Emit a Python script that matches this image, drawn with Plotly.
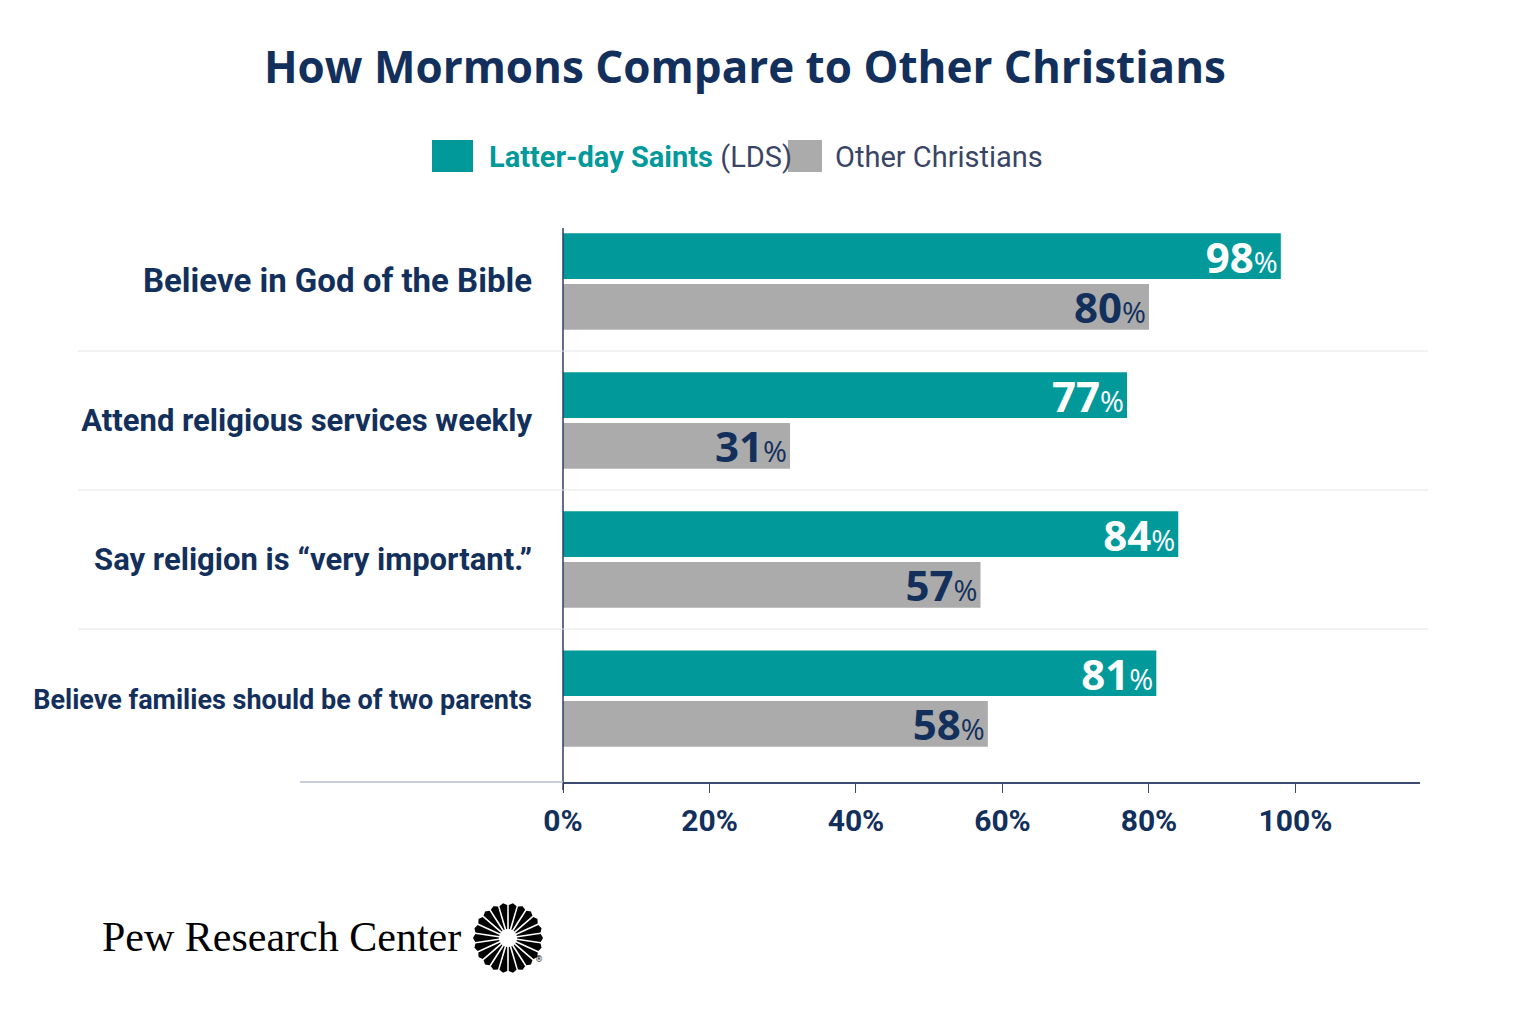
import math
import plotly.graph_objects as go

# ---------------- data ----------------
categories = [
    "Believe in God of the Bible",
    "Attend religious services weekly",
    "Say religion is “very important.”",
    "Believe families should be of two parents",
]
lds_values = [98, 77, 84, 81]
other_values = [80, 31, 57, 58]
series_names = ["Latter-day Saints (LDS)", "Other Christians"]
x_tickvals = [0, 20, 40, 60, 80, 100]
x_ticktext = ["0%", "20%", "40%", "60%", "80%", "100%"]

# ---------------- style ----------------
W, H = 1536, 1024
ML, MR, MT, MB = 563, 116, 212, 242
PW, PH = W - ML - MR, H - MT - MB
TEAL = "#02999b"
GRAY = "#ababab"
NAVY = "#13305c"
COND = "Roboto, Liberation Sans Narrow, Noto Sans, sans-serif"


def px_x(px):
    return (px - ML) / PW


def px_y(py):
    return (H - MB - py) / PH


def label(v, size_pct):
    return f"<b>{v}</b><span style='font-size:{size_pct}px'>%</span>"


ypos = list(range(len(categories)))

fig = go.Figure()
fig.add_trace(go.Bar(
    name=series_names[0], y=ypos, x=lds_values, orientation="h",
    marker=dict(color=TEAL, line=dict(width=0)),
    text=[label(v, 29) for v in lds_values], textposition="inside",
    insidetextanchor="end", textangle=0, constraintext="none",
    textfont=dict(family="Open Sans, Noto Sans, sans-serif", size=42, color="white"),
    hoverinfo="skip",
))
fig.add_trace(go.Bar(
    name=series_names[1], y=ypos, x=other_values, orientation="h",
    marker=dict(color=GRAY, line=dict(width=0)),
    text=[label(v, 29) for v in other_values], textposition="inside",
    insidetextanchor="end", textangle=0, constraintext="none",
    textfont=dict(family="Open Sans, Noto Sans, sans-serif", size=42, color=NAVY),
    hoverinfo="skip",
))

ticktext = [f"<b>{c}</b>" for c in categories]
ticktext[0] = f"<b><span style='font-size:33px'>{categories[0]}</span></b>"
ticktext[-1] = f"<b><span style='font-size:27px'>{categories[-1]}</span></b>"

fig.update_layout(
    width=W, height=H,
    margin=dict(l=ML, r=MR, t=MT, b=MB, autoexpand=False),
    paper_bgcolor="white", plot_bgcolor="white",
    barmode="group", bargap=0.27, bargroupgap=0.1,
    showlegend=False,
    uniformtext=dict(mode=False),
    title=dict(
        text="<b>How Mormons Compare to Other Christians</b>",
        x=0.485, xanchor="center", y=1 - 68 / H, yanchor="middle",
        font=dict(family="Open Sans, Noto Sans, sans-serif", size=44, color=NAVY),
    ),
    xaxis=dict(
        range=[0, 117], tickvals=x_tickvals, ticktext=x_ticktext,
        showgrid=False, zeroline=False,
        showline=True, linecolor="#3b4a6e", linewidth=1.5,
        ticks="outside", ticklen=9, tickcolor="#3b4a6e", tickwidth=1,
        tickfont=dict(family=COND, size=30, color=NAVY, weight="bold"),
        ticklabelstandoff=2,
    ),
    yaxis=dict(
        range=[3.6, -0.5], tickvals=ypos, ticktext=ticktext,
        showgrid=False, zeroline=False, showline=False, ticks="",
        tickfont=dict(family=COND, size=31, color=NAVY),
        ticklabelstandoff=30,
    ),
)

shapes = []
# vertical axis line
shapes.append(dict(type="line", xref="paper", yref="paper",
                   x0=0, x1=0, y0=px_y(790), y1=px_y(228),
                   line=dict(color="#2c3d66", width=1.5)))
# extension of bottom axis to the left
shapes.append(dict(type="line", xref="paper", yref="paper",
                   x0=px_x(300), x1=0, y0=0, y1=0,
                   line=dict(color="#b8bfcc", width=1.5)))
# group separators
for yv in [0.5, 1.5, 2.5]:
    shapes.append(dict(type="line", xref="paper", yref="y",
                       x0=px_x(78), x1=px_x(1428), y0=yv, y1=yv,
                       line=dict(color="#e2e4e8", width=1)))
# legend swatches
shapes.append(dict(type="rect", xref="paper", yref="paper",
                   x0=px_x(432), x1=px_x(473), y0=px_y(172), y1=px_y(140),
                   fillcolor=TEAL, line=dict(width=0)))
shapes.append(dict(type="rect", xref="paper", yref="paper",
                   x0=px_x(788), x1=px_x(822), y0=px_y(172), y1=px_y(140),
                   fillcolor=GRAY, line=dict(width=0)))

# Pew logo starburst
cx, cy = 508, 938
n_spokes = 22
r_in, r_out = 9, 33
for i in range(n_spokes):
    a = 2 * math.pi * i / n_spokes
    da_in = 0.05
    da_out = 0.12
    pts = [
        (cx + r_in * math.cos(a - da_in), cy + r_in * math.sin(a - da_in)),
        (cx + r_out * math.cos(a - da_out), cy + r_out * math.sin(a - da_out)),
        (cx + (r_out + 2) * math.cos(a), cy + (r_out + 2) * math.sin(a)),
        (cx + r_out * math.cos(a + da_out), cy + r_out * math.sin(a + da_out)),
        (cx + r_in * math.cos(a + da_in), cy + r_in * math.sin(a + da_in)),
    ]
    path = "M " + " L ".join(f"{px_x(x):.5f},{px_y(y):.5f}" for x, y in pts) + " Z"
    shapes.append(dict(type="path", xref="paper", yref="paper", path=path,
                       fillcolor="black", line=dict(width=0)))
fig.update_layout(shapes=shapes)

annotations = [
    dict(xref="paper", yref="paper", x=px_x(487), y=px_y(157), xanchor="left", yanchor="middle",
         showarrow=False,
         text="<b>Latter-day Saints</b> <span style='color:#3a4566'>(LDS)</span>",
         font=dict(family=COND, size=29, color=TEAL)),
    dict(xref="paper", yref="paper", x=px_x(833), y=px_y(157), xanchor="left", yanchor="middle",
         showarrow=False, text="Other Christians",
         font=dict(family=COND, size=29, color="#3a4566")),
    dict(xref="paper", yref="paper", x=px_x(100), y=px_y(937), xanchor="left", yanchor="middle",
         showarrow=False, text="Pew Research Center",
         font=dict(family="Liberation Serif, DejaVu Serif, serif", size=42, color="black")),
    dict(xref="paper", yref="paper", x=px_x(539), y=px_y(959), xanchor="center", yanchor="middle",
         showarrow=False, text="®",
         font=dict(family="DejaVu Sans, sans-serif", size=8, color="black")),
]
fig.update_layout(annotations=annotations)

fig.write_html("out.html")
